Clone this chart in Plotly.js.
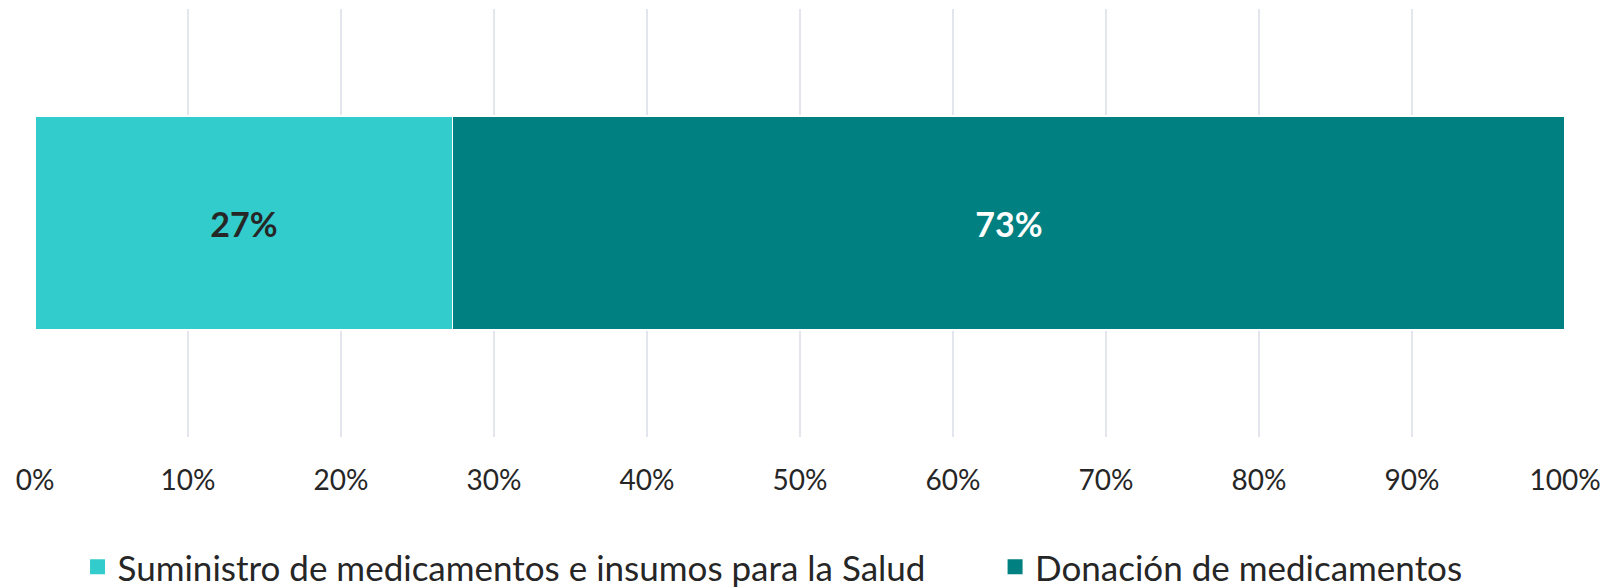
<!DOCTYPE html>
<html>
<head>
<meta charset="utf-8">
<script src="https://cdn.plot.ly/plotly-3.0.1.min.js"></script>
<style>html,body{margin:0;padding:0;background:#fff;}#chart{width:1608px;height:587px;}</style>
</head>
<body>
<div id="chart"></div>
<script>
const category = [''];
const seriesNames = ['Suministro de medicamentos e insumos para la Salud', 'Donación de medicamentos'];
const seriesColors = ['#33CCCC', '#008080'];
const suministroValues = [27.3];
const donacionValues = [72.7];
const suministroLabels = ['27%'];
const donacionLabels = ['73%'];
const tickValues = [0, 10, 20, 30, 40, 50, 60, 70, 80, 90, 100];
const tickLabels = ['0%', '10%', '20%', '30%', '40%', '50%', '60%', '70%', '80%', '90%', '100%'];

const FONT = 'Lato, "Open Sans", sans-serif';

const traces = [
  {
    type: 'bar', orientation: 'h', name: seriesNames[0],
    x: suministroValues, y: category, text: suministroLabels,
    textposition: 'inside', insidetextanchor: 'middle', textangle: 0,
    textfont: {family: FONT, size: 34, color: '#262626', weight: 'bold'},
    marker: {color: seriesColors[0], line: {color: '#ffffff', width: 1.5}},
    hoverinfo: 'skip', showlegend: false
  },
  {
    type: 'bar', orientation: 'h', name: seriesNames[1],
    x: donacionValues, y: category, text: donacionLabels,
    textposition: 'inside', insidetextanchor: 'middle', textangle: 0,
    textfont: {family: FONT, size: 34, color: '#ffffff', weight: 'bold'},
    marker: {color: seriesColors[1], line: {color: '#ffffff', width: 1.5}},
    hoverinfo: 'skip', showlegend: false
  },
  // legend keys (no data points drawn)
  {
    type: 'scatter', mode: 'markers', name: seriesNames[0], x: [null], y: [null],
    marker: {symbol: 'square', size: 15, color: seriesColors[0]},
    hoverinfo: 'skip', legend: 'legend', showlegend: true
  },
  {
    type: 'scatter', mode: 'markers', name: seriesNames[1], x: [null], y: [null],
    marker: {symbol: 'square', size: 15, color: seriesColors[1]},
    hoverinfo: 'skip', legend: 'legend2', showlegend: true
  }
];

const legendFont = {family: FONT, size: 35, color: '#262626'};

const layout = {
  width: 1608, height: 587,
  margin: {l: 35, r: 43, t: 9, b: 150, autoexpand: false},
  barmode: 'stack', bargap: 0.5,
  paper_bgcolor: '#ffffff', plot_bgcolor: '#ffffff',
  font: {family: FONT, color: '#262626'},
  xaxis: {
    range: [0, 100], tickvals: tickValues, ticktext: tickLabels,
    showgrid: true, gridcolor: '#e3e6ec', gridwidth: 2,
    zeroline: false, showline: false, ticks: '',
    ticklabelstandoff: 24,
    tickfont: {family: FONT, size: 28, color: '#262626'},
    automargin: false,
    fixedrange: true
  },
  yaxis: {showticklabels: false, showgrid: false, zeroline: false, fixedrange: true, automargin: false},
  showlegend: true,
  legend: {
    orientation: 'h', x: 0.0278, xanchor: 'left', y: -0.304, yanchor: 'middle',
    font: legendFont, bgcolor: 'rgba(0,0,0,0)'
  },
  legend2: {
    orientation: 'h', x: 0.6275, xanchor: 'left', y: -0.304, yanchor: 'middle',
    font: legendFont, bgcolor: 'rgba(0,0,0,0)'
  }
};

Plotly.newPlot('chart', traces, layout, {displayModeBar: false, staticPlot: true});
</script>
</body>
</html>
